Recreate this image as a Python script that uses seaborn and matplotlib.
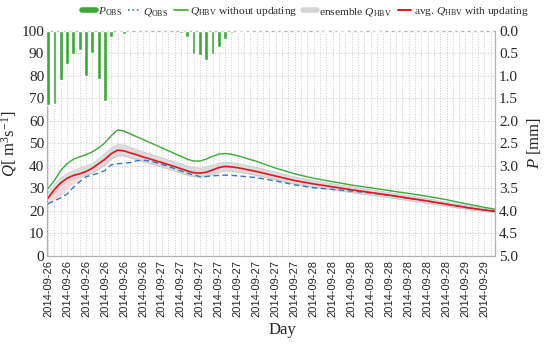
import matplotlib
matplotlib.use('Agg')
import numpy as np
import pandas as pd
import matplotlib.pyplot as plt
import matplotlib.dates as mdates
from matplotlib.lines import Line2D
import seaborn as sns

# hourly observed precipitation [mm], 2014-09-26 06:00 .. 2014-09-29 05:00
p_obs = [1.64, 1.62, 1.10, 0.74, 0.52, 0.42, 1.00, 0.50, 1.07, 1.56, 0.14, 0.03,
         0.07, 0, 0, 0, 0, 0, 0, 0, 0, 0.04, 0.13, 0.52,
         0.53, 0.64, 0.51, 0.36, 0.18, 0.04, 0.02, 0.02, 0.02, 0, 0, 0,
         0, 0, 0, 0, 0, 0, 0, 0, 0.02, 0, 0.02, 0.02,
         0, 0, 0, 0, 0.02, 0, 0, 0, 0, 0, 0, 0,
         0, 0, 0, 0, 0, 0, 0, 0, 0, 0, 0, 0]

# hours after 2014-09-26 06:00 at which discharge is given
q_hours = list(range(0, 31)) + [33, 36, 39, 42, 45, 48, 51, 54, 57, 60, 63, 66, 69, 71]

# discharge [m3/s]
q_obs = [23.2, 24.5, 25.8, 27.5, 30.5, 33.0, 35.2, 36.0, 36.8, 38.0, 40.5, 41.0,
         41.2, 41.5, 42.3, 42.6, 42.2, 41.5, 40.7, 39.8, 38.8, 37.8, 36.8, 36.0,
         35.3, 35.3, 35.6, 35.8, 35.9, 35.8, 35.6,
         34.8, 33.3, 31.6, 30.3, 29.6, 28.8, 28.0, 26.9, 25.6, 24.4, 23.0, 21.6, 20.4, 19.8]
q_hbv = [30.0, 33.5, 38.0, 41.0, 43.0, 44.0, 45.0, 46.3, 48.0, 50.3, 53.5, 56.0,
         55.5, 54.2, 53.0, 51.8, 50.5, 49.3, 48.0, 46.8, 45.5, 44.3, 43.0, 42.2,
         42.2, 43.0, 44.3, 45.3, 45.5, 45.2, 44.5,
         42.0, 39.0, 36.5, 34.5, 33.0, 31.5, 30.3, 29.0, 27.8, 26.5, 25.0, 23.2, 21.6, 20.6]
q_avg_upd = [25.8, 29.5, 32.5, 34.5, 35.8, 36.5, 37.5, 39.0, 41.0, 43.0, 45.5, 47.0,
             46.7, 45.8, 45.0, 44.0, 43.2, 42.3, 41.5, 40.6, 39.7, 38.8, 37.8, 37.0,
             36.8, 37.2, 38.2, 39.3, 39.8, 39.6, 39.2,
             37.5, 35.5, 33.5, 32.0, 30.7, 29.4, 28.2, 27.0, 25.7, 24.4, 23.0, 21.6, 20.4, 19.7]
ens_lo = [25.0, 28.0, 31.0, 33.0, 34.3, 35.0, 35.8, 36.8, 38.5, 40.5, 43.0, 44.5,
          44.5, 43.6, 42.8, 41.9, 41.1, 40.3, 39.5, 38.6, 37.7, 36.8, 35.9, 35.2,
          35.0, 35.3, 36.2, 37.3, 37.8, 37.7, 37.3,
          35.8, 33.9, 32.0, 30.6, 29.4, 28.1, 27.0, 25.9, 24.6, 23.4, 22.1, 20.8, 19.7, 19.1]
ens_hi = [28.0, 31.5, 34.5, 36.5, 38.0, 39.0, 40.0, 41.0, 43.0, 45.5, 48.0, 49.5,
          49.3, 48.3, 47.3, 46.3, 45.4, 44.5, 43.6, 42.7, 41.8, 40.9, 40.0, 39.3,
          39.0, 39.4, 40.3, 41.2, 41.6, 41.4, 41.0,
          39.3, 37.2, 35.1, 33.5, 32.1, 30.7, 29.4, 28.1, 26.8, 25.4, 23.9, 22.4, 21.1, 20.3]
# spread of the updated runs in the first hours
upd_lo = [23.5, 25.0, 27.0, 29.5, 32.0, 34.0]
upd_hi = [26.5, 30.5, 33.5, 35.5, 36.8, 37.5]

start = pd.Timestamp('2014-09-26 06:00')
t_hour = pd.date_range(start, periods=len(p_obs), freq='h')
t_q = [start + pd.Timedelta(hours=h) for h in q_hours]

df = pd.DataFrame({'time': t_q, 'obs': q_obs, 'hbv': q_hbv, 'upd': q_avg_upd,
                   'lo': ens_lo, 'hi': ens_hi})

sns.set_style('white')
plt.rcParams['font.family'] = ['Liberation Serif', 'DejaVu Serif']
plt.rcParams['mathtext.fontset'] = 'custom'
plt.rcParams['mathtext.rm'] = 'Liberation Serif'
plt.rcParams['mathtext.it'] = 'Liberation Serif:italic'

green = '#3aa935'
fig = plt.figure(figsize=(5.5, 3.44), dpi=100)
ax = fig.add_axes([0.0855, 0.256, 0.8145, 0.654])

# grid
ax.xaxis.set_major_locator(mdates.HourLocator(byhour=range(0, 24, 3)))
ax.xaxis.set_minor_locator(mdates.HourLocator())
ax.xaxis.set_major_formatter(mdates.DateFormatter('%Y-%m-%d'))
ax.grid(which='both', axis='x', color='#c8c8c8', linestyle=':', linewidth=0.7)
ax.grid(which='major', axis='y', color='#c8c8c8', linestyle=':', linewidth=0.7)

# ensemble band
ax.fill_between(df['time'], df['lo'], df['hi'], color='#d6d6d6', alpha=0.85, lw=0, zorder=2)
ax.fill_between(t_q[:len(upd_lo)], upd_lo, upd_hi, color='#f3d3d6', alpha=0.8, lw=0, zorder=2)
for col in ['lo', 'hi']:
    sns.lineplot(data=df, x='time', y=col, ax=ax, color='#c6c6c6', lw=0.6, zorder=2)
sns.lineplot(data=df, x='time', y='hbv', ax=ax, color=green, lw=1.0, zorder=3)
sns.lineplot(data=df, x='time', y='obs', ax=ax, color='#2f78c0', lw=1.0,
             linestyle=(0, (4, 2.5)), zorder=4)
sns.lineplot(data=df, x='time', y='upd', ax=ax, color='#e3141f', lw=1.2, zorder=5)

ax.set_ylim(0, 100)
ax.set_yticks(range(0, 101, 10))
ax.set_xlim(pd.Timestamp('2014-09-26 05:50'), pd.Timestamp('2014-09-29 04:40'))
ax.set_xlabel('Day', fontsize=12, va='top')
ax.set_ylabel(r'$Q$[ m$^3$s$^{-1}$]', fontsize=12, labelpad=2)
ax.xaxis.set_label_coords(0.525, -0.295)
ax.tick_params(axis='y', labelsize=11, length=0, pad=2)
ax.tick_params(axis='x', which='both', length=0, pad=3)
for lab in ax.get_xticklabels():
    lab.set_rotation(90)
    lab.set_fontfamily('Liberation Sans')
    lab.set_fontsize(8)

# precipitation on inverted right axis
ax2 = ax.twinx()
ax2.bar(t_hour, p_obs, width=0.6 / 24, color=green, zorder=3)
ax2.set_ylim(5, 0)
ax2.set_yticks(np.arange(0, 5.01, 0.5))
ax2.set_yticklabels([f'{v:.1f}' for v in np.arange(0, 5.01, 0.5)])
ax2.tick_params(axis='y', labelsize=11, length=0, pad=3)
ax2.set_ylabel(r'$P$ [mm]', fontsize=12, labelpad=5)

for a in (ax, ax2):
    for s in a.spines.values():
        s.set_color('#b0b0b0')
        s.set_linewidth(0.8)

handles = [Line2D([], [], color=green, lw=4),
           Line2D([], [], color='#2f78c0', lw=1.2, linestyle=':'),
           Line2D([], [], color=green, lw=1.2),
           Line2D([], [], color='#d6d6d6', lw=4),
           Line2D([], [], color='#e3141f', lw=1.4)]
labels = [r'$P_{\mathrm{OBS}}$', r'$Q_{\mathrm{OBS}}$', r'$Q_{\mathrm{HBV}}$ without updating',
          r'ensemble $Q_{\mathrm{HBV}}$', r'avg. $Q_{\mathrm{HBV}}$ with updating']
leg = fig.legend(handles, labels, loc='upper center', bbox_to_anchor=(0.555, 1.015), ncol=5,
                 frameon=False, fontsize=8.2, handlelength=1.2, handletextpad=0.2,
                 columnspacing=0.5)

fig.savefig('out.png', dpi=100)
